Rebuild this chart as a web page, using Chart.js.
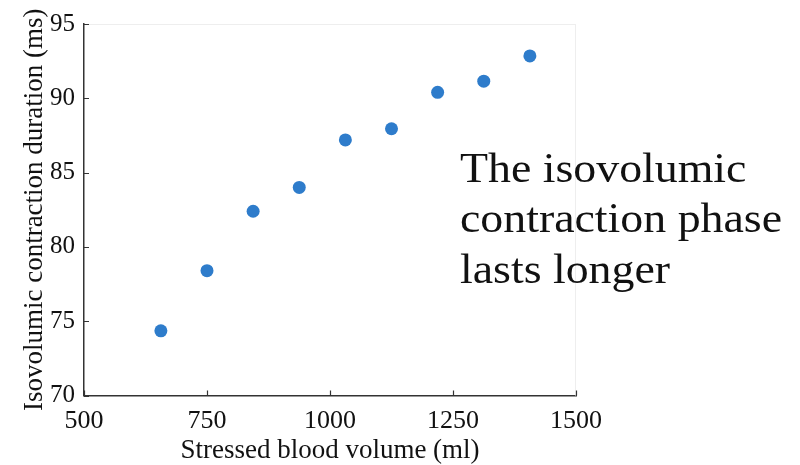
<!DOCTYPE html>
<html>
<head>
<meta charset="utf-8">
<script src="https://cdn.jsdelivr.net/npm/chart.js@4.4.1/dist/chart.umd.min.js"></script>
<style>
  html, body { margin: 0; padding: 0; background: #fff; }
  #wrap { width: 800px; height: 465px; position: relative; }
</style>
</head>
<body>
<div id="wrap"><canvas id="c" width="800" height="465"></canvas></div>
<script>
const volumes = [656.25, 750, 843.75, 937.5, 1031.25, 1125, 1218.75, 1312.5, 1406.25];
const durations = [74.35, 78.4, 82.4, 84.0, 87.2, 87.95, 90.4, 91.15, 92.85];
const xTicks = [500, 750, 1000, 1250, 1500];
const yTicks = [70, 75, 80, 85, 90, 95];
const xTitle = 'Stressed blood volume (ml)';
const yTitle = 'Isovolumic contraction duration (ms)';
const noteLines = ['The isovolumic', 'contraction phase', 'lasts longer'];

const serif = '"Liberation Serif", "Times New Roman", serif';
const axisColor = '#333';

const innerTicks = {
  id: 'innerTicks',
  afterDatasetsDraw(chart) {
    const ctx = chart.ctx, x = chart.scales.x, y = chart.scales.y, a = chart.chartArea;
    ctx.save();
    ctx.strokeStyle = '#eee';
    ctx.lineWidth = 1;
    ctx.beginPath();
    ctx.moveTo(a.left, a.top + 0.5); ctx.lineTo(a.right, a.top + 0.5);
    ctx.moveTo(a.right - 0.5, a.top); ctx.lineTo(a.right - 0.5, a.bottom);
    ctx.stroke();
    ctx.strokeStyle = axisColor;
    ctx.lineWidth = 1.2;
    ctx.beginPath();
    xTicks.forEach(v => { const px = Math.round(x.getPixelForValue(v)) + 0.5; ctx.moveTo(px, a.bottom); ctx.lineTo(px, a.bottom - 5); });
    yTicks.forEach(v => { const py = Math.round(y.getPixelForValue(v)) + 0.5; ctx.moveTo(a.left, py); ctx.lineTo(a.left + 5, py); });
    ctx.stroke();
    ctx.restore();
  }
};

const note = {
  id: 'note',
  afterDraw(chart) {
    const ctx = chart.ctx;
    ctx.save();
    ctx.fillStyle = '#111';
    ctx.font = '43px ' + serif;
    ctx.textBaseline = 'alphabetic';
    ctx.textAlign = 'left';
    const baselines = [182, 232, 283];
    noteLines.forEach((t, i) => {
      ctx.save();
      ctx.translate(460, baselines[i]);
      ctx.scale(1.066, 1);
      ctx.fillText(t, 0, 0);
      ctx.restore();
    });
    ctx.restore();
  }
};

new Chart(document.getElementById('c'), {
  type: 'scatter',
  data: {
    datasets: [{
      data: volumes.map((v, i) => ({ x: v, y: durations[i] })),
      backgroundColor: '#2e7ccb',
      borderColor: '#2e7ccb',
      pointRadius: 6.5,
      pointHoverRadius: 6.5,
      borderWidth: 0
    }]
  },
  options: {
    responsive: false,
    animation: false,
    events: [],
    layout: { padding: { top: 24, right: 224, left: 0, bottom: 0 } },
    plugins: { legend: { display: false }, tooltip: { enabled: false } },
    scales: {
      x: {
        type: 'linear', min: 500, max: 1500,
        afterBuildTicks: s => { s.ticks = xTicks.map(v => ({ value: v })); },
        afterFit: s => { s.height = 69.5; },
        border: { display: true, color: axisColor, width: 1.5 },
        grid: { display: false },
        ticks: { color: '#111', font: { family: serif, size: 26 }, padding: 2, maxRotation: 0, callback: v => String(v) },
        title: { display: true, text: xTitle, color: '#111', font: { family: serif, size: 27 }, padding: { top: -4, bottom: -2 } }
      },
      y: {
        type: 'linear', min: 70, max: 95,
        afterBuildTicks: s => { s.ticks = yTicks.map(v => ({ value: v })); },
        afterFit: s => { s.width = 84; },
        border: { display: true, color: axisColor, width: 1.5 },
        grid: { display: false },
        ticks: { color: '#111', font: { family: serif, size: 25 }, padding: 1, callback: v => String(v) },
        title: { display: true, text: yTitle, color: '#111', font: { family: serif, size: 27 }, padding: { top: 19, bottom: 0 } }
      }
    }
  },
  plugins: [innerTicks, note]
});
</script>
</body>
</html>
